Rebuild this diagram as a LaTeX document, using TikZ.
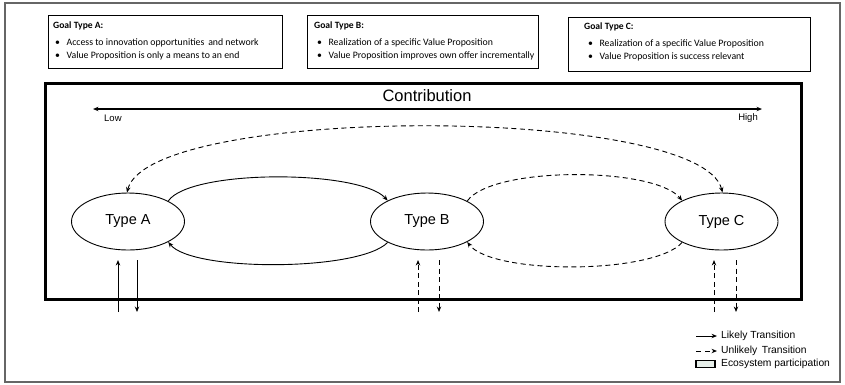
\documentclass[tikz,border=0pt]{standalone}
\usepackage{fontspec}
\setmainfont{Liberation Sans}
\newfontfamily\goalfont{Carlito}
\usetikzlibrary{arrows.meta,shapes.geometric}

\tikzset{
  tip/.style={-{Stealth[length=5.5pt,width=4.4pt]}},
  twotip/.style={{Stealth[length=5.5pt,width=4.4pt]}-{Stealth[length=5.5pt,width=4.4pt]}},
  likely/.style={tip,line width=0.9pt},
  unlikely/.style={tip,line width=0.9pt,dash pattern=on 5pt off 3.5pt},
  typenode/.style={ellipse,draw,line width=0.9pt,minimum width=113pt,minimum height=57pt,
    inner sep=0pt,font=\fontsize{14.5}{16}\selectfont},
  goalbox/.style={draw,line width=0.8pt,fill=white},
  goaltitle/.style={anchor=west,inner sep=0pt,font=\goalfont\bfseries\fontsize{9.6}{11}\selectfont},
  goalitem/.style={anchor=west,inner sep=0pt,font=\goalfont\fontsize{9.8}{11}\selectfont},
  legtext/.style={anchor=west,inner sep=0pt,font=\fontsize{10.3}{12}\selectfont},
}

\begin{document}
\begin{tikzpicture}[x=1pt,y=-1pt]
  % page area and outer frame
  \useasboundingbox (0,0) rectangle (845,384);
  \draw[gray!80!black,line width=1.3pt] (5,3) rectangle (840,382);

  % goal descriptions
  \draw[goalbox] (48,15) rectangle (282,68);
  \node[goaltitle] (gA) at (53,26) {Goal Type A:};
  \node[goalitem] (gA1) at (55,43) {•\hspace{6.5pt}Access to innovation opportunities\, and network};
  \node[goalitem] (gA2) at (55,56) {•\hspace{6.5pt}Value Proposition is only a means to an end};

  \draw[goalbox] (307,15) rectangle (538,68);
  \node[goaltitle] (gB) at (314,26) {Goal Type B:};
  \node[goalitem] (gB1) at (317,43) {•\hspace{6.5pt}Realization of a specific Value Proposition};
  \node[goalitem] (gB2) at (317,56) {•\hspace{6.5pt}Value Proposition improves own offer incrementally};

  \draw[goalbox] (568,17) rectangle (810,71);
  \node[goaltitle] (gC) at (584,27) {Goal Type C:};
  \node[goalitem] (gC1) at (588,44) {•\hspace{6.5pt}Realization of a specific Value Proposition};
  \node[goalitem] (gC2) at (588,57) {•\hspace{6.5pt}Value Proposition is success relevant};

  % ecosystem participation frame
  \draw[line width=3pt] (45.5,83) rectangle (801,299);

  % contribution axis
  \coordinate (low) at (93,109);
  \coordinate (high) at (762,109);
  \draw[twotip,line width=1.1pt] (low) -- (high);
  \node[font=\fontsize{16.5}{18}\selectfont] (contrib) at (427,96) {Contribution};
  \node[anchor=west,inner sep=0pt,font=\fontsize{9.5}{11}\selectfont] (lowlbl) at (104,118) {Low};
  \node[anchor=east,inner sep=0pt,font=\fontsize{9.5}{11}\selectfont] (highlbl) at (758,118) {High};

  % participant types
  \node[typenode] (A) at (128,221.5) {Type A};
  \node[typenode] (B) at (427,221.5) {Type B};
  \node[typenode] (C) at (721.5,221.5) {Type C};

  % transitions between types
  \draw[likely] (A.27) .. controls +(22,-32) and +(-28,-31) .. (B.152);
  \draw[likely] (B.208) .. controls +(-28,29) and +(24,30) .. (A.333);
  \draw[unlikely] (B.27) .. controls +(25,-35) and +(-28,-34) .. (C.152);
  \draw[unlikely] (C.208) .. controls +(-28,32) and +(25,33) .. (B.333);
  \draw[twotip,line width=0.9pt,dash pattern=on 5pt off 3.5pt]
    (A.92) .. controls +(22,-88) and +(-22,-88) .. (C.88);

  % entering and leaving the ecosystem
  \coordinate (Ain)  at (118,312); \coordinate (Ainend)  at (118,260);
  \coordinate (Aout) at (137,260); \coordinate (Aoutend) at (137,312);
  \coordinate (Bin)  at (418,312); \coordinate (Binend)  at (418,260);
  \coordinate (Bout) at (439,260); \coordinate (Boutend) at (439,312);
  \coordinate (Cin)  at (714,312); \coordinate (Cinend)  at (714,260);
  \coordinate (Cout) at (736,260); \coordinate (Coutend) at (736,312);
  \draw[likely] (Ain) -- (Ainend);
  \draw[likely] (Aout) -- (Aoutend);
  \draw[unlikely] (Bin) -- (Binend);
  \draw[unlikely] (Bout) -- (Boutend);
  \draw[unlikely] (Cin) -- (Cinend);
  \draw[unlikely] (Cout) -- (Coutend);

  % legend
  \coordinate (l1a) at (696,336); \coordinate (l1b) at (717,336);
  \coordinate (l2a) at (696,351); \coordinate (l2b) at (717,351);
  \draw[likely] (l1a) -- (l1b);
  \draw[unlikely,dash pattern=on 5pt off 4pt] (l2a) -- (l2b);
  \draw[line width=1.6pt,fill={rgb,255:red,230;green,238;blue,233}] (696,360.5) rectangle (715,367.5);
  \node[legtext] (leg1) at (721,336) {Likely Transition};
  \node[legtext] (leg2) at (721,351) {Unlikely\, Transition};
  \node[legtext] (leg3) at (721,364) {Ecosystem participation};
\end{tikzpicture}
\end{document}
